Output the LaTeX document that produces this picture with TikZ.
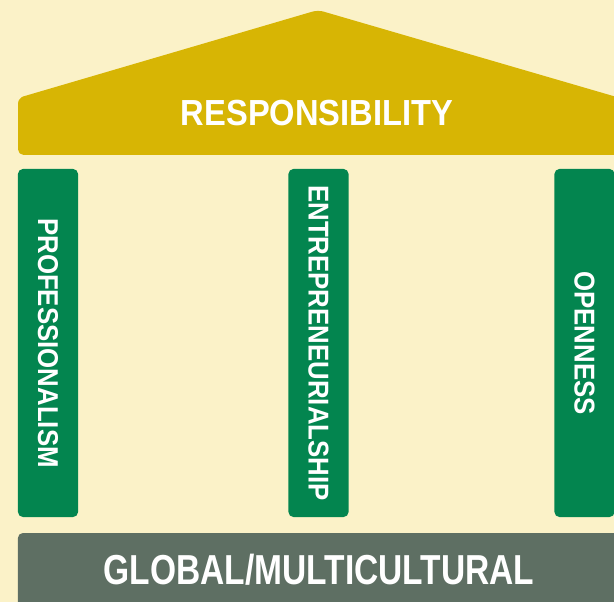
\documentclass[tikz,border=0pt]{standalone}
\usepackage{fontspec}
\setmainfont{Liberation Sans}
\newfontfamily\roofface[FakeStretch=0.9]{Liberation Sans Bold}
\newfontfamily\baseface[FakeStretch=0.8]{Liberation Sans Bold}

\definecolor{cream}{HTML}{FBF2C8}
\definecolor{roofgold}{HTML}{D7B504}
\definecolor{pillargreen}{HTML}{03854F}
\definecolor{basegray}{HTML}{5E6F63}

\tikzset{
  pillar/.style={fill=pillargreen, rounded corners=3.5pt, rotate=-90, inner sep=0pt,
    minimum width=247.5pt, minimum height=42.7pt, text=white,
    font=\roofface\fontsize{20.4}{21}\selectfont},
  plinth/.style={fill=basegray, rounded corners=3.5pt, inner sep=0pt,
    minimum width=428.2pt, minimum height=52.6pt, text=white,
    font=\baseface\fontsize{29.8}{30}\selectfont}
}

\begin{document}
\begin{tikzpicture}[x=0.025cm, y=-0.025cm]
\fill[cream] (0,0) rectangle (614,602);
\useasboundingbox (0,0) rectangle (614,602);
\clip (0,0) rectangle (614,602);
% roof
\fill[roofgold, rounded corners=4pt] (18,155) -- (18,98) -- (318,10) -- (620,98) -- (620,155) -- cycle;
\node[text=white, font=\roofface\fontsize{25.8}{26}\selectfont] (resp) at (317,113) {RESPONSIBILITY};
% pillars
\node[pillar] (prof) at (48,343) {PROFESSIONALISM};
\node[pillar] (entr) at (318.5,343) {ENTREPRENEURIALSHIP};
\node[pillar] (open) at (584.5,343) {OPENNESS};
% base
\node[plinth] (glob) at (319,570) {GLOBAL/MULTICULTURAL};
\end{tikzpicture}
\end{document}
